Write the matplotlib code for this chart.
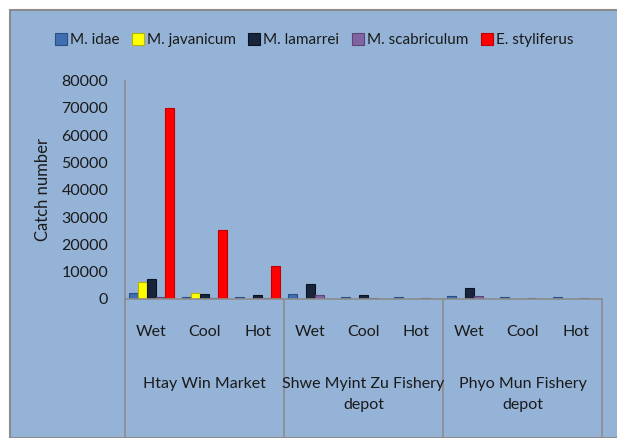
import matplotlib
matplotlib.use("Agg")
import matplotlib.pyplot as plt
from matplotlib.lines import Line2D
from matplotlib.patches import Rectangle
import numpy as np

plt.rcParams['font.family'] = ['Lato', 'DejaVu Sans']

species = ["M. idae", "M. javanicum", "M. lamarrei", "M. scabriculum", "E. styliferus"]
sites = ["Htay Win Market", "Shwe Myint Zu Fishery\ndepot", "Phyo Mun Fishery\ndepot"]
seasons = ["Wet", "Cool", "Hot"]
colors = ["#3f6fb0", "#ffff00", "#17243a", "#8064a2", "#ff0000"]
edges = ["#2a4f85", "#b5b500", "#0b1322", "#5c4678", "#c00000"]

# values per species for 9 categories (site x season)
m_idae        = [2200, 600, 600, 1800, 700, 700, 1000, 700, 700]
m_javanicum   = [6300, 2300, 0, 0, 0, 0, 0, 0, 0]
m_lamarrei    = [7200, 1700, 1300, 5500, 1300, 0, 3900, 0, 0]
m_scabriculum = [900, 200, 200, 1300, 300, 300, 1200, 300, 300]
e_styliferus  = [70000, 25200, 12000, 0, 0, 0, 0, 0, 0]
series = [m_idae, m_javanicum, m_lamarrei, m_scabriculum, e_styliferus]

yticks = [0, 10000, 20000, 30000, 40000, 50000, 60000, 70000, 80000]

W, H = 617, 438
fig = plt.figure(figsize=(W/100, H/100), dpi=100)
bg = "#95b3d7"
fig.patch.set_facecolor("white")
fig.patches.append(Rectangle((10/W, 0), 1, (H-10)/H, transform=fig.transFigure,
                             facecolor=bg, edgecolor="#8c8c8c", linewidth=1.5, zorder=-5))

x0, x1 = 125, 602
y0, ytop = 299, 80.7
ax = fig.add_axes([x0/W, (H-y0)/H, (x1-x0)/W, (y0-ytop)/H], zorder=2)
ax.set_facecolor("none")
for s in ax.spines.values():
    s.set_visible(False)

n = 9
x = np.arange(n)
bw = 0.17
for i, (vals, c, e) in enumerate(zip(series, colors, edges)):
    ax.bar(x + (i - 2) * bw, vals, width=bw, color=c, edgecolor=e, linewidth=0.8, zorder=3)

ax.set_xlim(-0.5, n - 0.5)
ax.set_ylim(0, 80000)
ax.set_yticks(yticks)
ax.set_yticklabels([str(t) for t in yticks], fontsize=11.5, color="#1a1a1a")
ax.tick_params(axis='y', length=0, pad=12)
ax.set_xticks([])
ax.set_ylabel("Catch number", fontsize=12, color="#1a1a1a")
ax.yaxis.set_label_coords(-0.155, 0.5)

# axis lines
ax.plot([-0.5, -0.5], [0, 80000], color="#8c8c8c", lw=1.2, clip_on=False, zorder=4)
ax.plot([-0.5, n - 0.5], [0, 0], color="#8c8c8c", lw=1.2, clip_on=False, zorder=4)

# group separators
for b in [x0, 284, 443, x1]:
    fig.lines.append(Line2D([b/W, b/W], [(H-y0)/H, (H-436)/H], transform=fig.transFigure,
                            color="#8c8c8c", lw=1.2))

cat_w = (x1 - x0) / n
# season labels
for k in range(n):
    cx = x0 + cat_w * (k + 0.5)
    fig.text(cx/W, (H-332)/H, seasons[k % 3], fontsize=11.5,
             ha='center', va='center', color="#1a1a1a")
# site labels
for g, name in enumerate(sites):
    cx = x0 + cat_w * (3 * g + 1.5)
    fig.text(cx/W, (H-377)/H, name, fontsize=11.5, ha='center', va='top',
             color="#1a1a1a", linespacing=1.6)

# legend
handles = [Rectangle((0, 0), 1, 1, facecolor=c, edgecolor=e, linewidth=0.8)
           for c, e in zip(colors, edges)]
fig.legend(handles, species, loc='center', bbox_to_anchor=(314/W, (H-40)/H), ncol=5,
           frameon=False, fontsize=11, handlelength=0.8, handleheight=0.8,
           handletextpad=0.2, columnspacing=0.8, labelcolor="#1a1a1a")

fig.savefig("out.png", dpi=100, facecolor=fig.get_facecolor())
